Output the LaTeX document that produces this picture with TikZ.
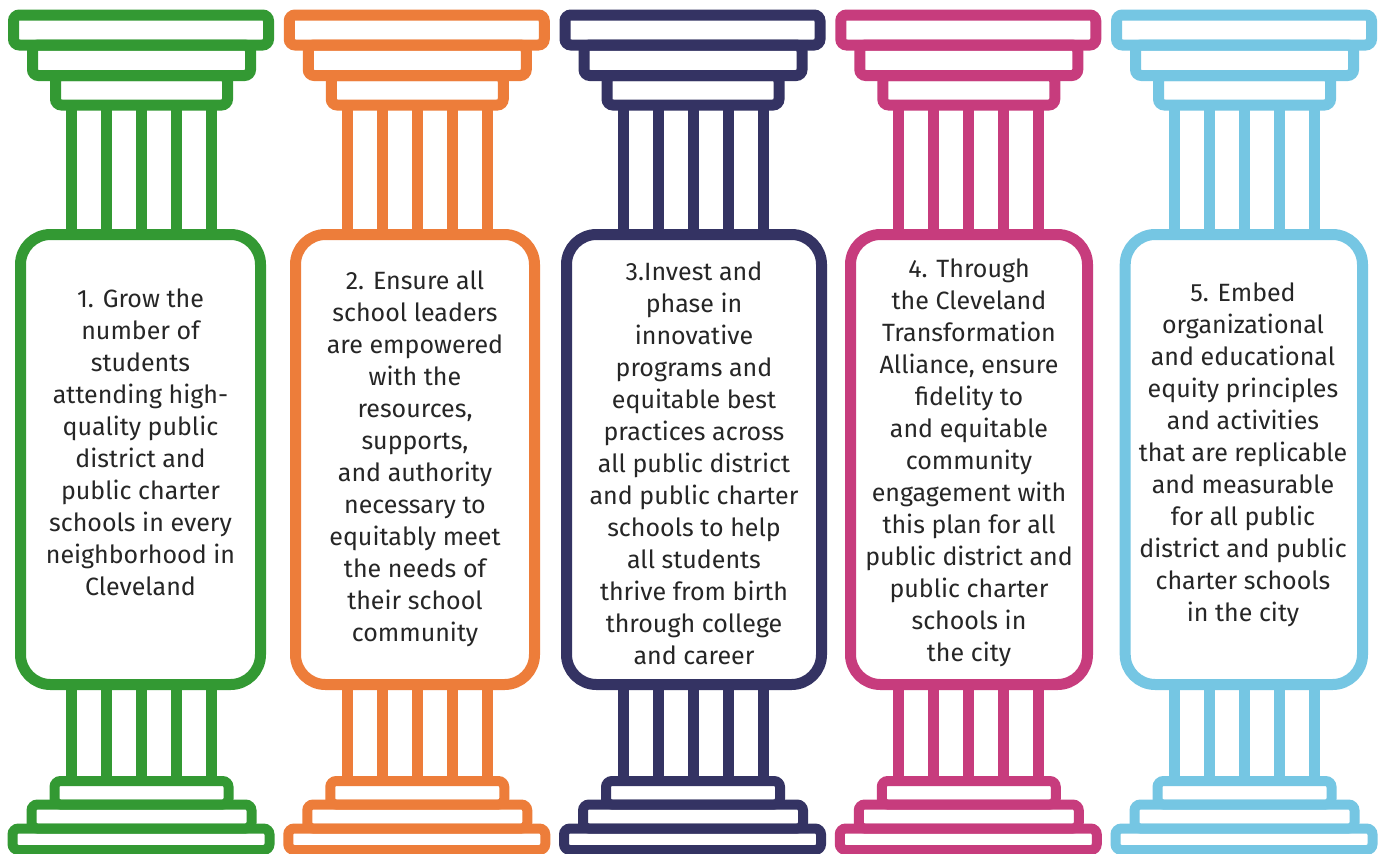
\documentclass[tikz,border=0pt]{standalone}
\usepackage{fontspec}
\setmainfont{Fira Sans}
\definecolor{pgreen}{HTML}{339933}
\definecolor{porange}{HTML}{ED7D3A}
\definecolor{pnavy}{HTML}{343363}
\definecolor{pmagenta}{HTML}{C73C7D}
\definecolor{pblue}{HTML}{75C6E3}
\definecolor{ptext}{HTML}{262626}
\tikzset{
  tier/.style={line width=11pt, rounded corners=6pt},
  basetier/.style={line width=10pt, rounded corners=6pt},
  flute/.style={line width=11pt},
  panel/.style={line width=11pt, rounded corners=30pt, fill=white},
  ptxt/.style={align=center, text=ptext, font=\fontsize{25}{32}\selectfont, inner sep=0pt},
}
\newcommand{\pillarbody}[3]{%
  % #1 colour, #2 box left, #3 box right (relative)
  \draw[tier,draw=#1] (5.5,15) rectangle (260.5,45);
  \draw[tier,draw=#1] (24.5,45) rectangle (242.5,75.5);
  \draw[tier,draw=#1] (47.5,75.5) rectangle (219.5,105);
  \foreach \cx in {63.5,98.5,133.5,168.5,203.5}{
    \draw[flute,draw=#1] (\cx,104) -- (\cx,236);
    \draw[flute,draw=#1] (\cx,683) -- (\cx,782);
  }
  \draw[basetier,draw=#1] (46.5,781) rectangle (220.5,804.5);
  \draw[basetier,draw=#1] (23.5,804.5) rectangle (243.5,828.5);
  \draw[basetier,draw=#1] (4.5,828.5) rectangle (261.5,850);
  \draw[panel,draw=#1] (#2,234.5) rectangle (#3,684.5);
}
\begin{document}
\begin{tikzpicture}[x=1pt,y=-1pt]
\useasboundingbox (0,0) rectangle (1382,854);
\fill[white] (0,0) rectangle (1382,854);

\begin{scope}[shift={(8,0)}]
  \pillarbody{pgreen}{12.5}{252.5}
\end{scope}
\begin{scope}[shift={(283.75,0)}]
  \pillarbody{porange}{11.75}{250.75}
\end{scope}
\begin{scope}[shift={(559.5,0)}]
  \pillarbody{pnavy}{7}{262}
\end{scope}
\begin{scope}[shift={(835.25,0)}]
  \pillarbody{pmagenta}{15.25}{252.25}
\end{scope}
\begin{scope}[shift={(1111,0)}]
  \pillarbody{pblue}{14.2}{251.5}
\end{scope}

\node[ptxt] (t1) at (140.5,442) {1. Grow the\\number of\\students\\attending high-\\quality public\\district and\\public charter\\schools in every\\neighborhood in\\Cleveland};
\node[ptxt] (t2) at (415,459) {2. Ensure all\\school leaders\\are empowered\\with the\\resources,\\supports,\\and authority\\necessary to\\equitably meet\\the needs of\\their school\\community};
\node[ptxt] (t3) at (694,463) {3.Invest and\\phase in\\innovative\\programs and\\equitable best\\practices across\\all public district\\and public charter\\schools to help\\all students\\thrive from birth\\through college\\and career};
\node[ptxt] (t4) at (969,463) {4. Through\\the Cleveland\\Transformation\\Alliance, ensure\\fidelity to\\and equitable\\community\\engagement with\\this plan for all\\public district and\\public charter\\schools in\\the city};
\node[ptxt] (t5) at (1243,455) {5. Embed\\organizational\\and educational\\equity principles\\and activities\\that are replicable\\and measurable\\for all public\\district and public\\charter schools\\in the city};
\end{tikzpicture}
\end{document}
